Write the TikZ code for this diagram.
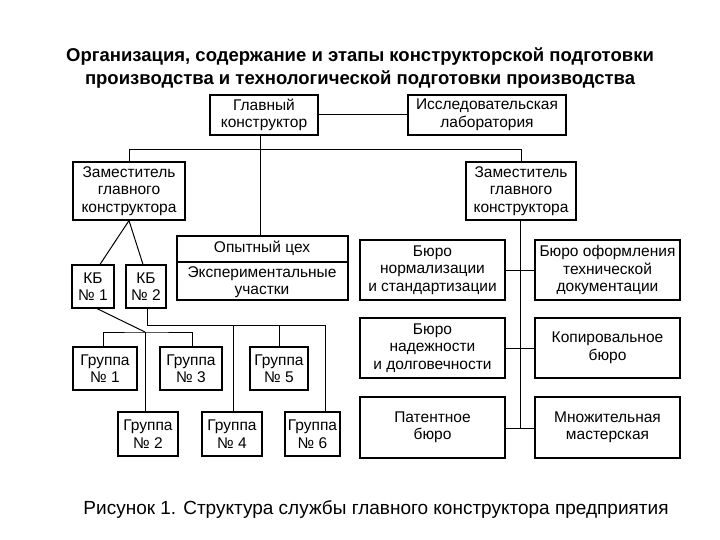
\documentclass[tikz,border=0pt]{standalone}
\usepackage{fontspec}
\setmainfont{Liberation Sans}
\begin{document}
\begin{tikzpicture}[x=1pt,y=-1pt,
 box/.style={draw,line width=1.2pt,align=center,inner sep=0pt,font=\fontsize{15.5}{17.5}\selectfont},
 ln/.style={line width=1pt}]
\useasboundingbox (0,0) rectangle (720,540);
\def\bx#1#2#3#4#5#6{\node[box,minimum width=#4-#2,minimum height=#5-#3] (#1) at ({(#2+#4)/2},{(#3+#5)/2}) {#6};}
\node[font=\bfseries\fontsize{18.5}{23}\selectfont,align=center] (title) at (360,68) {Организация, содержание и этапы конструкторской подготовки\\производства и технологической подготовки производства};
\bx{gk}{210}{95}{318}{135}{Главный\\конструктор}
\bx{lab}{408}{95}{566}{135}{Исследовательская\\лаборатория}
\bx{zl}{73}{162}{185}{220}{Заместитель\\главного\\конструктора}
\bx{zr}{466}{162}{576}{220}{Заместитель\\главного\\конструктора}
\bx{oc}{177}{236}{348}{300}{}
\node[font=\fontsize{15.5}{17.5}\selectfont] (oc1) at (262,248) {Опытный цех};
\node[font=\fontsize{15.5}{17.5}\selectfont,align=center] (oc2) at (262,282) {Экспериментальные\\участки};
\draw[line width=1.2pt] (oc.west |- 0,262) coordinate (d1) -- (oc.east |- 0,262) coordinate (d2);
\bx{kb1}{72}{265}{114}{308}{КБ\\№ 1}
\bx{kb2}{126}{265}{166}{308}{КБ\\№ 2}
\bx{g1}{73}{347}{137}{390}{Группа\\№ 1}
\bx{g3}{160}{347}{222}{390}{Группа\\№ 3}
\bx{g5}{250}{347}{308}{390}{Группа\\№ 5}
\bx{g2}{118}{412}{178}{456}{Группа\\№ 2}
\bx{g4}{202}{412}{262}{456}{Группа\\№ 4}
\bx{g6}{285}{412}{340}{456}{Группа\\№ 6}
\bx{bn}{360}{240}{505}{300}{Бюро\\нормализации\\и стандартизации}
\bx{bo}{535}{240}{680}{300}{Бюро оформления\\технической\\документации}
\bx{bd}{360}{318}{505}{378}{Бюро\\надежности\\и долговечности}
\bx{kop}{535}{318}{680}{378}{Копировальное\\бюро}
\bx{pat}{360}{397}{505}{458}{Патентное\\бюро}
\bx{mn}{535}{397}{680}{458}{Множительная\\мастерская}
\node[font=\fontsize{19}{21}\selectfont] (cap) at (376,510) {Рисунок 1. Структура службы главного конструктора предприятия};
% connectors
\draw[ln] (gk.east) -- (lab.west);
\draw[ln] (zl.north) -- ++(0,-12) -| (zr.north);
\draw[ln] (gk.south -| 260,0) -- (oc.north -| 260,0);
\draw[ln] (zl.south) -- (kb1.north -| 100,0);
\draw[ln] (zl.south) -- (kb2.north -| 143,0);
\draw[ln] (kb1.south -| 97,0) -- (145,332) coordinate (c1);
\draw[ln] (g1.north -| 103,0) |- (c1) -| (g3.north -| 192,0);
\draw[ln] (c1) -- (g2.north -| 145,0);
\draw[ln] (kb2.south -| 147,0) |- (325,325) coordinate (c2) -- (g6.north -| 325,0);
\draw[ln] (g4.north -| 233,0) -- (233,325);
\draw[ln] (g5.north -| 279,0) -- (279,325);
\draw[ln] (zr.south -| 520,0) -- (520,428) coordinate (sp);
\draw[line width=0.6pt] (bn.east) -- (bo.west);
\draw[ln] (bd.east) -- (kop.west);
\draw[ln] (pat.east |- sp) -- (mn.west |- sp);
\end{tikzpicture}
\end{document}
